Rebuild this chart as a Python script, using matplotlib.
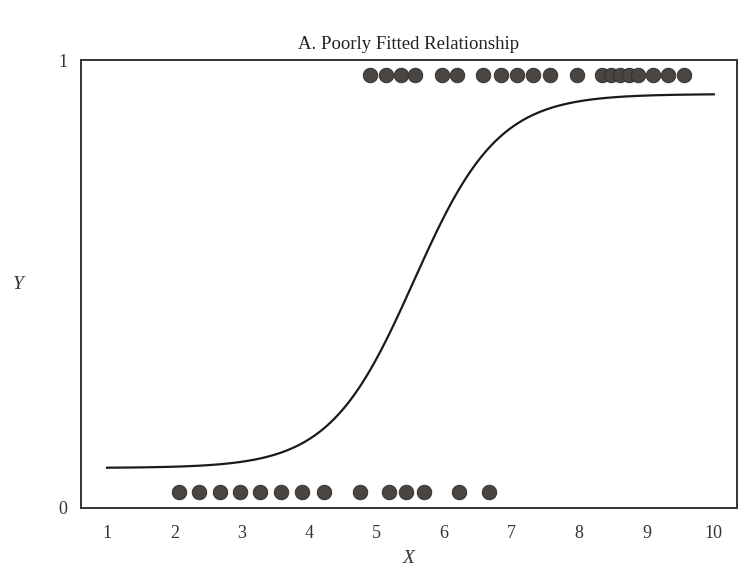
import matplotlib.pyplot as plt
import numpy as np

# observations with Y = 1 (top row) and Y = 0 (bottom row)
x_y1 = [4.90, 5.14, 5.36, 5.57, 5.97, 6.19, 6.58, 6.85, 7.08, 7.32, 7.57,
        7.97, 8.34, 8.48, 8.61, 8.74, 8.88, 9.10, 9.32, 9.56]
x_y0 = [2.07, 2.36, 2.68, 2.97, 3.27, 3.58, 3.89, 4.22, 4.75, 5.18, 5.44,
        5.70, 6.22, 6.67]

# fitted curve (scaled logistic)
curve_floor = 0.058
curve_ceiling = 0.955
curve_mid = 5.55
curve_slope = 1.6

x_ticks = [1, 2, 3, 4, 5, 6, 7, 8, 9, 10]

plt.rcParams['font.family'] = ['Liberation Serif', 'DejaVu Serif']

fig = plt.figure(figsize=(7.46, 5.74), dpi=100)
ax = fig.add_axes([0.1086, 0.115, 0.879, 0.780])

xs = np.linspace(1, 10, 300)
ys = curve_floor + (curve_ceiling - curve_floor) / (1 + np.exp(-curve_slope * (xs - curve_mid)))
ax.plot(xs, ys, color='#1a1a1a', lw=1.6)

dot = '#4a4541'
ax.plot(x_y1, np.ones(len(x_y1)), 'o', ms=10.5, color=dot, mec='#2e2a28', mew=0.6)
ax.plot(x_y0, np.zeros(len(x_y0)), 'o', ms=10.5, color=dot, mec='#2e2a28', mew=0.6)

ymin, ymax = -0.038, 1.036
ax.set_xlim(0.614, 10.34)
ax.set_ylim(ymin, ymax)
ax.set_xticks(x_ticks)
ax.set_yticks([ymin, ymax], ['0', '1'])
ax.tick_params(length=0, labelsize=13, colors='#333333')
ax.tick_params(axis='x', pad=12)
ax.tick_params(axis='y', pad=10)

for s in ax.spines.values():
    s.set_color('#333333')
    s.set_linewidth(1.4)

ax.set_title('A. Poorly Fitted Relationship', fontsize=13.5, color='#222222', pad=8)
ax.set_xlabel('X', fontsize=14, style='italic', color='#333333', labelpad=6)
ax.set_ylabel('Y', fontsize=14, style='italic', color='#333333', rotation=0, va='center')
ax.yaxis.set_label_coords(-0.096, 0.5)

fig.savefig('out.png', dpi=100)
